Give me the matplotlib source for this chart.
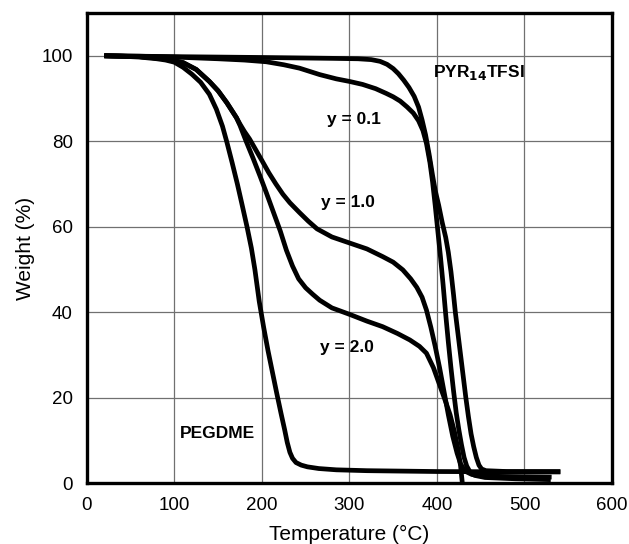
import numpy as np
import matplotlib
matplotlib.use('Agg')
import matplotlib.pyplot as plt

plt.rcParams['font.family'] = ['Liberation Sans', 'DejaVu Sans']

# PEGDME
t_peg = [20, 40, 60, 80, 90, 100, 110, 120, 130, 140, 148, 155, 160, 166, 172, 177,
         183, 188, 192, 197, 202, 207, 212, 217, 222, 226, 229, 232, 235, 239, 245,
         252, 265, 285, 320, 400, 541]
w_peg = [100, 99.9, 99.7, 99.3, 99, 98.5, 97.3, 95.7, 93.8, 91, 87.5, 83.5, 79.8, 75, 70, 65.5,
         60, 55, 50, 42.5, 36.5, 31, 26, 21, 16.2, 12.5, 9.5, 7.2, 5.8, 4.8, 4.2,
         3.8, 3.4, 3.1, 2.9, 2.7, 2.6]

# y = 2.0
t_y20 = [20, 60, 90, 110, 125, 140, 150, 160, 171, 175, 182, 190, 198, 205, 213, 221,
         228, 235, 242, 250, 258, 266, 280, 300, 320, 338, 355, 369, 380, 388,
         396, 403, 410, 415, 420, 424, 427, 429]
w_y20 = [100, 99.8, 99.3, 98.4, 96.8, 94, 91.8, 89, 85.5, 83.7, 80, 76, 71.8, 68, 63.5, 59,
         54.5, 50.8, 47.8, 45.7, 44.2, 42.8, 41, 39.5, 37.9, 36.6, 35, 33.5, 32, 30.4,
         27, 23, 19, 16, 12, 8, 4, 0]

# y = 1.0
t_y10 = [20, 60, 90, 110, 125, 140, 150, 160, 171, 175, 180, 186, 193, 200, 208, 216,
         224, 232, 243, 253, 263, 280, 300, 320, 338, 350, 361, 370, 377, 383, 388,
         393, 398, 403, 408, 413, 418, 423, 427, 432, 440, 460, 531]
w_y10 = [100, 99.8, 99.3, 98.4, 96.8, 94, 91.8, 89, 85.5, 84, 82.3, 80.5, 78, 75.5, 72.6, 70,
         67.6, 65.6, 63.3, 61.3, 59.5, 57.6, 56.2, 54.8, 53, 51.7, 49.9, 47.8, 45.8, 43.5, 40.5,
         36.5, 32, 27, 21.5, 16, 11, 7, 4.5, 2.8, 2, 1.6, 1.4]

# y = 0.1
t_y01 = [20, 60, 100, 150, 180, 205, 225, 243, 266, 285, 300, 315, 330, 342, 350, 358,
         366, 373, 379, 384, 388, 392, 395, 398, 401, 404, 407, 410, 413, 416, 419,
         422, 425, 428, 431, 434, 438, 443, 455, 490, 530]
w_y01 = [100, 99.9, 99.7, 99.3, 99, 98.6, 97.9, 97.1, 95.6, 94.6, 94, 93.3, 92.3, 91.2, 90.4, 89.4,
         88, 86.6, 84.8, 82.5, 79.5, 75, 70.5, 65, 59, 53, 46.5, 39.5, 33, 27, 21.5,
         16.5, 12.5, 9, 6, 4, 2.5, 1.8, 1.3, 1.0, 0.8]

# PYR14TFSI
t_pyr = [20, 100, 200, 280, 310, 325, 335, 343, 350, 356, 362, 368, 374, 379, 383, 387,
         391, 395, 398, 402, 406, 410, 413, 416, 419, 421, 424, 427, 430, 433, 436,
         439, 442, 445, 448, 451, 456, 480, 541]
w_pyr = [100, 99.8, 99.6, 99.4, 99.3, 99.1, 98.7, 98, 97, 95.8, 94.3, 92.6, 90.5, 88, 85, 81.5,
         77, 72, 68.5, 65, 61, 57.5, 54, 49.5, 44, 40, 35, 30, 25, 20, 15.5,
         11.5, 8.5, 6, 4.2, 3.3, 2.9, 2.7, 2.7]

curves = [(t_peg, w_peg), (t_y20, w_y20), (t_y10, w_y10), (t_y01, w_y01), (t_pyr, w_pyr)]

fig = plt.figure(figsize=(6.29, 5.44), dpi=100)
ax = fig.add_axes([0.138, 0.112, 0.835, 0.864])

for t, w in curves:
    ax.plot(t, w, color='black', lw=3.4, solid_capstyle='butt',
            solid_joinstyle='round', zorder=3)

ax.set_xlim(0, 600)
ax.set_ylim(0, 110)
ax.set_xticks(np.arange(0, 601, 100))
ax.set_yticks(np.arange(0, 101, 20))
ax.grid(True, color='#707070', lw=0.9)
ax.set_axisbelow(True)
for s in ax.spines.values():
    s.set_linewidth(2.4)
ax.tick_params(length=0, pad=10, labelsize=13.5)

ax.set_xlabel('Temperature (°C)', fontsize=15, labelpad=8)
ax.set_ylabel('Weight (%)', fontsize=15, labelpad=5)

lab = dict(fontsize=12.5, fontweight='bold', ha='left', va='center', zorder=4)
ax.text(395, 96.2, 'PYR$_{\\mathbf{14}}$TFSI', **lab)
ax.text(274, 85, 'y = 0.1', **lab)
ax.text(268, 65.6, 'y = 1.0', **lab)
ax.text(266, 31.8, 'y = 2.0', **lab)
ax.text(106, 11.5, 'PEGDME', **lab)

fig.savefig('out.png', dpi=100)
